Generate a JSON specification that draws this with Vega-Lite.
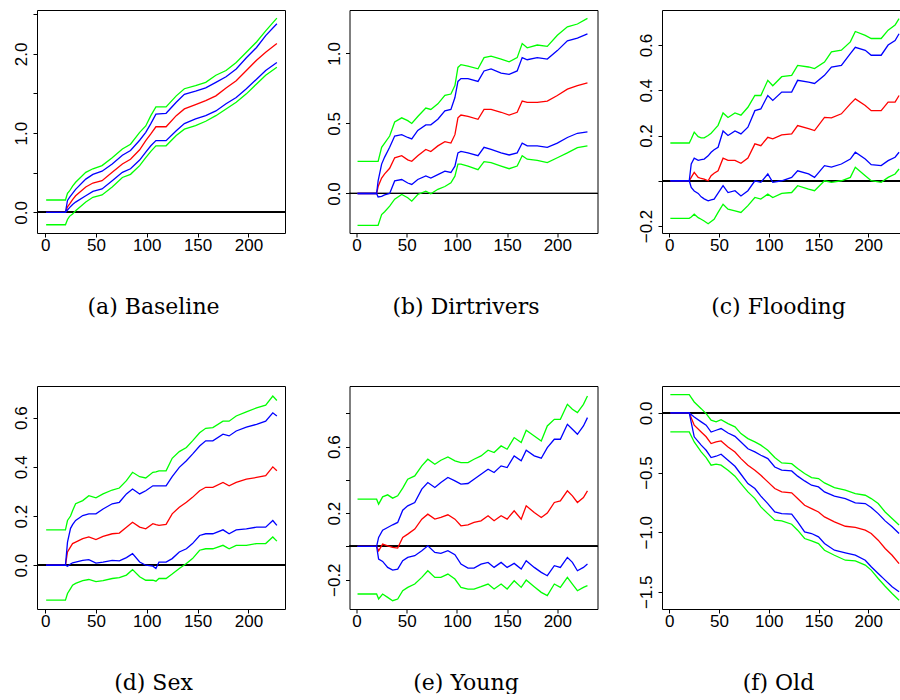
{
  "$schema": "https://vega.github.io/schema/vega-lite/v6.json",
  "background": "white",
  "padding": {"left": 11, "top": 9, "right": 0, "bottom": 0},
  "bounds": "flush",
  "columns": 3,
  "spacing": {"row": 153, "column": 64.5},
  "datasets": {
    "a": [
      {"x":1,"g1":-0.156,"b1":0,"r":0,"b2":0,"g2":0.156},
      {"x":20,"g1":-0.156,"b1":0,"r":0,"b2":0,"g2":0.156},
      {"x":22,"g1":-0.09,"b1":0.03,"r":0.07,"b2":0.15,"g2":0.24},
      {"x":24,"g1":-0.05,"b1":0.06,"r":0.105,"b2":0.19,"g2":0.27},
      {"x":27,"g1":-0.02,"b1":0.10,"r":0.16,"b2":0.24,"g2":0.33},
      {"x":30,"g1":0.02,"b1":0.13,"r":0.21,"b2":0.29,"g2":0.38},
      {"x":40,"g1":0.13,"b1":0.21,"r":0.32,"b2":0.42,"g2":0.505},
      {"x":47,"g1":0.19,"b1":0.265,"r":0.37,"b2":0.48,"g2":0.55},
      {"x":56,"g1":0.22,"b1":0.295,"r":0.40,"b2":0.52,"g2":0.59},
      {"x":66,"g1":0.32,"b1":0.40,"r":0.505,"b2":0.61,"g2":0.69},
      {"x":76,"g1":0.44,"b1":0.505,"r":0.61,"b2":0.72,"g2":0.80},
      {"x":84,"g1":0.48,"b1":0.55,"r":0.67,"b2":0.78,"g2":0.86},
      {"x":93,"g1":0.59,"b1":0.66,"r":0.79,"b2":0.91,"g2":1.01},
      {"x":99,"g1":0.69,"b1":0.76,"r":0.905,"b2":1.01,"g2":1.09},
      {"x":104,"g1":0.77,"b1":0.84,"r":0.99,"b2":1.12,"g2":1.22},
      {"x":109,"g1":0.84,"b1":0.905,"r":1.08,"b2":1.24,"g2":1.33},
      {"x":119,"g1":0.84,"b1":0.905,"r":1.08,"b2":1.25,"g2":1.33},
      {"x":129,"g1":0.97,"b1":1.03,"r":1.22,"b2":1.39,"g2":1.47},
      {"x":137,"g1":1.05,"b1":1.12,"r":1.305,"b2":1.49,"g2":1.56},
      {"x":148,"g1":1.095,"b1":1.18,"r":1.36,"b2":1.53,"g2":1.60},
      {"x":158,"g1":1.15,"b1":1.22,"r":1.41,"b2":1.57,"g2":1.64},
      {"x":168,"g1":1.22,"b1":1.28,"r":1.47,"b2":1.64,"g2":1.73},
      {"x":178,"g1":1.305,"b1":1.37,"r":1.57,"b2":1.71,"g2":1.79},
      {"x":188,"g1":1.39,"b1":1.45,"r":1.66,"b2":1.81,"g2":1.89},
      {"x":198,"g1":1.495,"b1":1.56,"r":1.79,"b2":1.95,"g2":2.02},
      {"x":208,"g1":1.62,"b1":1.68,"r":1.92,"b2":2.08,"g2":2.15},
      {"x":217,"g1":1.73,"b1":1.79,"r":2.02,"b2":2.23,"g2":2.29},
      {"x":228,"g1":1.83,"b1":1.89,"r":2.13,"b2":2.38,"g2":2.45}
    ],
    "b": [
      {"x":1,"g1":-0.227,"b1":0,"r":0,"b2":0,"g2":0.229},
      {"x":20,"g1":-0.227,"b1":0,"r":0,"b2":0,"g2":0.229},
      {"x":21.5,"g1":-0.227,"b1":-0.025,"r":0.05,"b2":0.09,"g2":0.229},
      {"x":25,"g1":-0.15,"b1":-0.02,"r":0.11,"b2":0.21,"g2":0.33},
      {"x":28,"g1":-0.13,"b1":-0.01,"r":0.14,"b2":0.26,"g2":0.36},
      {"x":33,"g1":-0.09,"b1":0.0,"r":0.18,"b2":0.33,"g2":0.41},
      {"x":38,"g1":-0.04,"b1":0.09,"r":0.255,"b2":0.41,"g2":0.51},
      {"x":45,"g1":-0.007,"b1":0.10,"r":0.27,"b2":0.42,"g2":0.54},
      {"x":51,"g1":-0.03,"b1":0.075,"r":0.24,"b2":0.40,"g2":0.52},
      {"x":55,"g1":-0.055,"b1":0.065,"r":0.23,"b2":0.39,"g2":0.50},
      {"x":61,"g1":-0.007,"b1":0.10,"r":0.27,"b2":0.45,"g2":0.55},
      {"x":69,"g1":0.017,"b1":0.125,"r":0.315,"b2":0.49,"g2":0.61},
      {"x":74,"g1":-0.002,"b1":0.11,"r":0.30,"b2":0.49,"g2":0.60},
      {"x":81,"g1":0.03,"b1":0.135,"r":0.34,"b2":0.53,"g2":0.64},
      {"x":88,"g1":0.05,"b1":0.16,"r":0.37,"b2":0.59,"g2":0.70},
      {"x":94,"g1":0.076,"b1":0.15,"r":0.36,"b2":0.60,"g2":0.71},
      {"x":98,"g1":0.124,"b1":0.195,"r":0.42,"b2":0.685,"g2":0.77},
      {"x":101,"g1":0.21,"b1":0.29,"r":0.54,"b2":0.80,"g2":0.90},
      {"x":104,"g1":0.21,"b1":0.30,"r":0.56,"b2":0.82,"g2":0.92},
      {"x":111,"g1":0.196,"b1":0.29,"r":0.55,"b2":0.82,"g2":0.91},
      {"x":121,"g1":0.17,"b1":0.27,"r":0.53,"b2":0.80,"g2":0.89},
      {"x":127,"g1":0.227,"b1":0.33,"r":0.60,"b2":0.875,"g2":0.97},
      {"x":134,"g1":0.22,"b1":0.315,"r":0.60,"b2":0.89,"g2":0.98},
      {"x":144,"g1":0.196,"b1":0.29,"r":0.58,"b2":0.86,"g2":0.96},
      {"x":152,"g1":0.177,"b1":0.275,"r":0.56,"b2":0.85,"g2":0.94},
      {"x":160,"g1":0.196,"b1":0.29,"r":0.58,"b2":0.875,"g2":0.97},
      {"x":165,"g1":0.27,"b1":0.36,"r":0.66,"b2":0.97,"g2":1.07},
      {"x":170,"g1":0.245,"b1":0.34,"r":0.65,"b2":0.955,"g2":1.04},
      {"x":180,"g1":0.236,"b1":0.34,"r":0.65,"b2":0.97,"g2":1.06},
      {"x":190,"g1":0.22,"b1":0.33,"r":0.66,"b2":0.96,"g2":1.05},
      {"x":200,"g1":0.255,"b1":0.36,"r":0.70,"b2":1.02,"g2":1.13},
      {"x":210,"g1":0.29,"b1":0.40,"r":0.745,"b2":1.09,"g2":1.19},
      {"x":220,"g1":0.327,"b1":0.43,"r":0.77,"b2":1.11,"g2":1.21},
      {"x":230,"g1":0.34,"b1":0.44,"r":0.79,"b2":1.14,"g2":1.25}
    ],
    "c": [
      {"x":1,"g1":-0.166,"b1":0,"r":0,"b2":0,"g2":0.167},
      {"x":20,"g1":-0.166,"b1":0,"r":0,"b2":0,"g2":0.167},
      {"x":22,"g1":-0.16,"b1":-0.03,"r":0.015,"b2":0.074,"g2":0.185},
      {"x":25,"g1":-0.148,"b1":-0.045,"r":0.037,"b2":0.10,"g2":0.215},
      {"x":29,"g1":-0.163,"b1":-0.056,"r":0.015,"b2":0.09,"g2":0.195},
      {"x":32,"g1":-0.17,"b1":-0.071,"r":0.01,"b2":0.093,"g2":0.19},
      {"x":35,"g1":-0.178,"b1":-0.08,"r":0.007,"b2":0.096,"g2":0.19},
      {"x":39,"g1":-0.19,"b1":-0.089,"r":0.0,"b2":0.11,"g2":0.20},
      {"x":42,"g1":-0.18,"b1":-0.085,"r":0.022,"b2":0.126,"g2":0.21},
      {"x":45,"g1":-0.17,"b1":-0.081,"r":0.033,"b2":0.137,"g2":0.225},
      {"x":49,"g1":-0.14,"b1":-0.055,"r":0.044,"b2":0.148,"g2":0.245},
      {"x":54,"g1":-0.104,"b1":-0.022,"r":0.10,"b2":0.22,"g2":0.30},
      {"x":59,"g1":-0.126,"b1":-0.052,"r":0.09,"b2":0.20,"g2":0.28},
      {"x":66,"g1":-0.133,"b1":-0.044,"r":0.09,"b2":0.22,"g2":0.30},
      {"x":72,"g1":-0.14,"b1":-0.067,"r":0.077,"b2":0.207,"g2":0.29},
      {"x":79,"g1":-0.11,"b1":-0.044,"r":0.10,"b2":0.237,"g2":0.325},
      {"x":86,"g1":-0.074,"b1":0.0,"r":0.163,"b2":0.31,"g2":0.377},
      {"x":92,"g1":-0.081,"b1":-0.007,"r":0.155,"b2":0.318,"g2":0.377},
      {"x":99,"g1":-0.059,"b1":0.03,"r":0.192,"b2":0.377,"g2":0.444},
      {"x":104,"g1":-0.074,"b1":-0.007,"r":0.185,"b2":0.355,"g2":0.42},
      {"x":113,"g1":-0.056,"b1":0.0,"r":0.203,"b2":0.392,"g2":0.46},
      {"x":123,"g1":-0.052,"b1":0.015,"r":0.207,"b2":0.392,"g2":0.466},
      {"x":129,"g1":-0.022,"b1":0.044,"r":0.244,"b2":0.444,"g2":0.51},
      {"x":140,"g1":-0.037,"b1":0.03,"r":0.23,"b2":0.436,"g2":0.503},
      {"x":146,"g1":-0.044,"b1":0.015,"r":0.222,"b2":0.43,"g2":0.496},
      {"x":156,"g1":0.0,"b1":0.067,"r":0.28,"b2":0.466,"g2":0.525},
      {"x":163,"g1":-0.007,"b1":0.06,"r":0.278,"b2":0.503,"g2":0.57},
      {"x":173,"g1":0.0,"b1":0.074,"r":0.296,"b2":0.51,"g2":0.577},
      {"x":182,"g1":0.015,"b1":0.096,"r":0.34,"b2":0.562,"g2":0.614},
      {"x":187,"g1":0.06,"b1":0.126,"r":0.362,"b2":0.59,"g2":0.66},
      {"x":197,"g1":0.022,"b1":0.096,"r":0.333,"b2":0.577,"g2":0.643},
      {"x":203,"g1":0.0,"b1":0.071,"r":0.31,"b2":0.555,"g2":0.629},
      {"x":213,"g1":-0.007,"b1":0.067,"r":0.31,"b2":0.555,"g2":0.629},
      {"x":220,"g1":0.015,"b1":0.089,"r":0.348,"b2":0.60,"g2":0.666},
      {"x":227,"g1":0.03,"b1":0.104,"r":0.348,"b2":0.62,"g2":0.688},
      {"x":231,"g1":0.052,"b1":0.126,"r":0.377,"b2":0.65,"g2":0.717}
    ],
    "d": [
      {"x":1,"g1":-0.142,"b1":0,"r":0,"b2":0,"g2":0.144},
      {"x":20,"g1":-0.142,"b1":0,"r":0,"b2":0,"g2":0.144},
      {"x":22,"g1":-0.115,"b1":-0.004,"r":0.054,"b2":0.094,"g2":0.182},
      {"x":25,"g1":-0.095,"b1":0.005,"r":0.075,"b2":0.15,"g2":0.20},
      {"x":27,"g1":-0.081,"b1":0.01,"r":0.088,"b2":0.165,"g2":0.222},
      {"x":30,"g1":-0.074,"b1":0.013,"r":0.094,"b2":0.182,"g2":0.25},
      {"x":37,"g1":-0.063,"b1":0.02,"r":0.108,"b2":0.202,"g2":0.263},
      {"x":43,"g1":-0.058,"b1":0.023,"r":0.115,"b2":0.209,"g2":0.283},
      {"x":50,"g1":-0.067,"b1":0.009,"r":0.104,"b2":0.209,"g2":0.274},
      {"x":57,"g1":-0.063,"b1":0.013,"r":0.117,"b2":0.229,"g2":0.29},
      {"x":66,"g1":-0.054,"b1":0.02,"r":0.128,"b2":0.25,"g2":0.306},
      {"x":73,"g1":-0.05,"b1":0.018,"r":0.131,"b2":0.256,"g2":0.314},
      {"x":80,"g1":-0.04,"b1":0.031,"r":0.155,"b2":0.29,"g2":0.344},
      {"x":86,"g1":-0.018,"b1":0.047,"r":0.175,"b2":0.31,"g2":0.378},
      {"x":93,"g1":-0.047,"b1":0.013,"r":0.155,"b2":0.29,"g2":0.36},
      {"x":99,"g1":-0.061,"b1":0.0,"r":0.148,"b2":0.303,"g2":0.355},
      {"x":106,"g1":-0.061,"b1":-0.004,"r":0.169,"b2":0.323,"g2":0.378},
      {"x":109,"g1":-0.065,"b1":-0.013,"r":0.165,"b2":0.323,"g2":0.38},
      {"x":112,"g1":-0.054,"b1":0.013,"r":0.162,"b2":0.323,"g2":0.384},
      {"x":119,"g1":-0.054,"b1":0.013,"r":0.166,"b2":0.323,"g2":0.384},
      {"x":125,"g1":-0.036,"b1":0.027,"r":0.209,"b2":0.36,"g2":0.435},
      {"x":132,"g1":-0.013,"b1":0.054,"r":0.236,"b2":0.398,"g2":0.462},
      {"x":139,"g1":0.007,"b1":0.067,"r":0.256,"b2":0.425,"g2":0.479},
      {"x":145,"g1":0.027,"b1":0.088,"r":0.276,"b2":0.452,"g2":0.506},
      {"x":152,"g1":0.061,"b1":0.121,"r":0.303,"b2":0.485,"g2":0.539},
      {"x":158,"g1":0.067,"b1":0.128,"r":0.317,"b2":0.506,"g2":0.557},
      {"x":165,"g1":0.067,"b1":0.128,"r":0.317,"b2":0.506,"g2":0.56},
      {"x":175,"g1":0.081,"b1":0.144,"r":0.337,"b2":0.533,"g2":0.586},
      {"x":181,"g1":0.067,"b1":0.128,"r":0.323,"b2":0.526,"g2":0.586},
      {"x":188,"g1":0.081,"b1":0.144,"r":0.337,"b2":0.546,"g2":0.607},
      {"x":198,"g1":0.081,"b1":0.148,"r":0.35,"b2":0.562,"g2":0.624},
      {"x":208,"g1":0.088,"b1":0.155,"r":0.357,"b2":0.573,"g2":0.64},
      {"x":217,"g1":0.088,"b1":0.155,"r":0.364,"b2":0.586,"g2":0.651},
      {"x":224,"g1":0.115,"b1":0.182,"r":0.40,"b2":0.62,"g2":0.688},
      {"x":228,"g1":0.098,"b1":0.162,"r":0.384,"b2":0.607,"g2":0.67}
    ],
    "e": [
      {"x":1,"g1":-0.286,"b1":0,"r":0,"b2":0,"g2":0.284},
      {"x":20,"g1":-0.286,"b1":0,"r":0,"b2":0,"g2":0.284},
      {"x":22,"g1":-0.316,"b1":-0.076,"r":-0.026,"b2":0.054,"g2":0.254},
      {"x":26,"g1":-0.286,"b1":-0.09,"r":0.014,"b2":0.098,"g2":0.298},
      {"x":31,"g1":-0.306,"b1":-0.126,"r":0.004,"b2":0.114,"g2":0.31},
      {"x":36,"g1":-0.326,"b1":-0.142,"r":-0.006,"b2":0.13,"g2":0.29},
      {"x":41,"g1":-0.316,"b1":-0.136,"r":-0.01,"b2":0.144,"g2":0.304},
      {"x":46,"g1":-0.266,"b1":-0.086,"r":0.054,"b2":0.218,"g2":0.35},
      {"x":51,"g1":-0.246,"b1":-0.066,"r":0.074,"b2":0.244,"g2":0.404},
      {"x":58,"g1":-0.226,"b1":-0.056,"r":0.104,"b2":0.264,"g2":0.424},
      {"x":65,"g1":-0.186,"b1":-0.026,"r":0.164,"b2":0.344,"g2":0.484},
      {"x":71,"g1":-0.146,"b1":0.004,"r":0.194,"b2":0.384,"g2":0.524},
      {"x":78,"g1":-0.186,"b1":-0.036,"r":0.164,"b2":0.354,"g2":0.494},
      {"x":84,"g1":-0.186,"b1":-0.042,"r":0.174,"b2":0.384,"g2":0.518},
      {"x":91,"g1":-0.166,"b1":-0.026,"r":0.19,"b2":0.414,"g2":0.538},
      {"x":98,"g1":-0.196,"b1":-0.05,"r":0.164,"b2":0.394,"g2":0.514},
      {"x":104,"g1":-0.246,"b1":-0.106,"r":0.124,"b2":0.374,"g2":0.504},
      {"x":111,"g1":-0.256,"b1":-0.13,"r":0.13,"b2":0.378,"g2":0.504},
      {"x":117,"g1":-0.256,"b1":-0.13,"r":0.144,"b2":0.404,"g2":0.524},
      {"x":124,"g1":-0.242,"b1":-0.106,"r":0.154,"b2":0.434,"g2":0.544},
      {"x":131,"g1":-0.226,"b1":-0.096,"r":0.184,"b2":0.464,"g2":0.578},
      {"x":137,"g1":-0.256,"b1":-0.126,"r":0.154,"b2":0.444,"g2":0.564},
      {"x":144,"g1":-0.226,"b1":-0.096,"r":0.184,"b2":0.484,"g2":0.604},
      {"x":150,"g1":-0.256,"b1":-0.126,"r":0.164,"b2":0.474,"g2":0.584},
      {"x":157,"g1":-0.206,"b1":-0.102,"r":0.214,"b2":0.544,"g2":0.654},
      {"x":164,"g1":-0.246,"b1":-0.136,"r":0.164,"b2":0.514,"g2":0.624},
      {"x":169,"g1":-0.202,"b1":-0.086,"r":0.244,"b2":0.578,"g2":0.698},
      {"x":177,"g1":-0.242,"b1":-0.126,"r":0.204,"b2":0.544,"g2":0.664},
      {"x":184,"g1":-0.276,"b1":-0.156,"r":0.174,"b2":0.53,"g2":0.634},
      {"x":190,"g1":-0.296,"b1":-0.176,"r":0.2,"b2":0.594,"g2":0.724},
      {"x":197,"g1":-0.226,"b1":-0.116,"r":0.264,"b2":0.644,"g2":0.764},
      {"x":203,"g1":-0.246,"b1":-0.126,"r":0.274,"b2":0.644,"g2":0.764},
      {"x":210,"g1":-0.186,"b1":-0.066,"r":0.334,"b2":0.734,"g2":0.854},
      {"x":215,"g1":-0.226,"b1":-0.096,"r":0.304,"b2":0.704,"g2":0.824},
      {"x":220,"g1":-0.266,"b1":-0.146,"r":0.264,"b2":0.674,"g2":0.804},
      {"x":226,"g1":-0.246,"b1":-0.126,"r":0.294,"b2":0.724,"g2":0.854},
      {"x":230,"g1":-0.236,"b1":-0.106,"r":0.334,"b2":0.774,"g2":0.904}
    ],
    "f": [
      {"x":1,"g1":-0.159,"b1":0,"r":0,"b2":0,"g2":0.154},
      {"x":20,"g1":-0.159,"b1":0,"r":0,"b2":0,"g2":0.154},
      {"x":25,"g1":-0.243,"b1":-0.2,"r":-0.103,"b2":-0.034,"g2":0.092},
      {"x":32,"g1":-0.327,"b1":-0.27,"r":-0.159,"b2":-0.075,"g2":0.036},
      {"x":37,"g1":-0.374,"b1":-0.313,"r":-0.2,"b2":-0.103,"g2":-0.006},
      {"x":42,"g1":-0.438,"b1":-0.374,"r":-0.257,"b2":-0.16,"g2":-0.061},
      {"x":47,"g1":-0.43,"b1":-0.363,"r":-0.243,"b2":-0.145,"g2":-0.075},
      {"x":52,"g1":-0.438,"b1":-0.346,"r":-0.235,"b2":-0.131,"g2":-0.056},
      {"x":59,"g1":-0.48,"b1":-0.397,"r":-0.285,"b2":-0.168,"g2":-0.089},
      {"x":66,"g1":-0.53,"b1":-0.447,"r":-0.327,"b2":-0.196,"g2":-0.117},
      {"x":72,"g1":-0.592,"b1":-0.514,"r":-0.383,"b2":-0.243,"g2":-0.173},
      {"x":79,"g1":-0.662,"b1":-0.592,"r":-0.438,"b2":-0.30,"g2":-0.215},
      {"x":86,"g1":-0.718,"b1":-0.634,"r":-0.48,"b2":-0.327,"g2":-0.243},
      {"x":92,"g1":-0.788,"b1":-0.698,"r":-0.522,"b2":-0.355,"g2":-0.27},
      {"x":99,"g1":-0.844,"b1":-0.76,"r":-0.578,"b2":-0.383,"g2":-0.313},
      {"x":106,"g1":-0.899,"b1":-0.83,"r":-0.634,"b2":-0.453,"g2":-0.374},
      {"x":113,"g1":-0.905,"b1":-0.844,"r":-0.662,"b2":-0.48,"g2":-0.419},
      {"x":123,"g1":-0.933,"b1":-0.849,"r":-0.67,"b2":-0.486,"g2":-0.425},
      {"x":129,"g1":-0.983,"b1":-0.913,"r":-0.718,"b2":-0.53,"g2":-0.466},
      {"x":136,"g1":-1.053,"b1":-0.997,"r":-0.774,"b2":-0.57,"g2":-0.508},
      {"x":143,"g1":-1.073,"b1":-1.011,"r":-0.802,"b2":-0.606,"g2":-0.542},
      {"x":150,"g1":-1.095,"b1":-1.039,"r":-0.83,"b2":-0.62,"g2":-0.55},
      {"x":156,"g1":-1.151,"b1":-1.095,"r":-0.872,"b2":-0.662,"g2":-0.587},
      {"x":166,"g1":-1.193,"b1":-1.151,"r":-0.913,"b2":-0.698,"g2":-0.626},
      {"x":177,"g1":-1.235,"b1":-1.173,"r":-0.95,"b2":-0.718,"g2":-0.648},
      {"x":187,"g1":-1.24,"b1":-1.193,"r":-0.96,"b2":-0.754,"g2":-0.676},
      {"x":197,"g1":-1.276,"b1":-1.235,"r":-0.983,"b2":-0.76,"g2":-0.69},
      {"x":203,"g1":-1.318,"b1":-1.29,"r":-1.011,"b2":-0.793,"g2":-0.718},
      {"x":210,"g1":-1.388,"b1":-1.346,"r":-1.067,"b2":-0.844,"g2":-0.76},
      {"x":217,"g1":-1.453,"b1":-1.402,"r":-1.137,"b2":-0.905,"g2":-0.83},
      {"x":224,"g1":-1.514,"b1":-1.458,"r":-1.193,"b2":-0.955,"g2":-0.885},
      {"x":231,"g1":-1.57,"b1":-1.5,"r":-1.263,"b2":-1.011,"g2":-0.94}
    ]
  },
  "concat": [
    {
      "width": 248, "height": 223,
      "data": {"name": "a"},
      "layer": [
        {"mark": {"type": "rule", "color": "black", "strokeWidth": 1}, "encoding": {"y": {"datum": 0, "type": "quantitative"}}},
        {"mark": {"type": "line", "color": "#FF0000", "strokeWidth": 1.3},
         "encoding": {
           "x": {"field": "x", "type": "quantitative", "title": "(a) Baseline", "scale": {"domain": [-8, 236], "nice": false, "zero": false},
                 "axis": {"values": [0, 50, 100, 150, 200], "format": "d", "labelPadding": 0, "titleX": 116, "titleY": 80, "titleAlign": "center", "titleBaseline": "alphabetic"}},
           "y": {"field": "r", "type": "quantitative", "title": null, "scale": {"domain": [-0.26, 2.553], "nice": false, "zero": false},
                 "axis": {"values": [0, 0.5, 1, 1.5, 2, 2.5], "format": ".1f", "labelExpr": "datum.value % 1 == 0 ? datum.label : ''"}}
         }},
        {"transform": [{"fold": ["b1", "b2"]}], "mark": {"type": "line", "color": "#0000FF", "strokeWidth": 1.3},
         "encoding": {"x": {"field": "x", "type": "quantitative", "title": "(a) Baseline"}, "y": {"field": "value", "type": "quantitative", "title": null}, "detail": {"field": "key"}}},
        {"transform": [{"fold": ["g1", "g2"]}], "mark": {"type": "line", "color": "#00FF00", "strokeWidth": 1.3},
         "encoding": {"x": {"field": "x", "type": "quantitative", "title": "(a) Baseline"}, "y": {"field": "value", "type": "quantitative", "title": null}, "detail": {"field": "key"}}}
      ]
    },
    {
      "width": 248, "height": 223,
      "data": {"name": "b"},
      "layer": [
        {"mark": {"type": "rule", "color": "black", "strokeWidth": 1}, "encoding": {"y": {"datum": 0, "type": "quantitative"}}},
        {"mark": {"type": "line", "color": "#FF0000", "strokeWidth": 1.3},
         "encoding": {
           "x": {"field": "x", "type": "quantitative", "title": "(b) Dirtrivers", "scale": {"domain": [-7, 240], "nice": false, "zero": false},
                 "axis": {"values": [0, 50, 100, 150, 200], "format": "d", "labelPadding": 0, "titleX": 116, "titleY": 80, "titleAlign": "center", "titleBaseline": "alphabetic"}},
           "y": {"field": "r", "type": "quantitative", "title": null, "scale": {"domain": [-0.282, 1.31], "nice": false, "zero": false},
                 "axis": {"values": [0, 0.5, 1], "format": ".1f"}}
         }},
        {"transform": [{"fold": ["b1", "b2"]}], "mark": {"type": "line", "color": "#0000FF", "strokeWidth": 1.3},
         "encoding": {"x": {"field": "x", "type": "quantitative", "title": "(b) Dirtrivers"}, "y": {"field": "value", "type": "quantitative", "title": null}, "detail": {"field": "key"}}},
        {"transform": [{"fold": ["g1", "g2"]}], "mark": {"type": "line", "color": "#00FF00", "strokeWidth": 1.3},
         "encoding": {"x": {"field": "x", "type": "quantitative", "title": "(b) Dirtrivers"}, "y": {"field": "value", "type": "quantitative", "title": null}, "detail": {"field": "key"}}}
      ]
    },
    {
      "width": 248, "height": 223,
      "data": {"name": "c"},
      "layer": [
        {"mark": {"type": "rule", "color": "black", "strokeWidth": 1}, "encoding": {"y": {"datum": 0, "type": "quantitative"}}},
        {"mark": {"type": "line", "color": "#FF0000", "strokeWidth": 1.3},
         "encoding": {
           "x": {"field": "x", "type": "quantitative", "title": "(c) Flooding", "scale": {"domain": [-7.4, 242], "nice": false, "zero": false},
                 "axis": {"values": [0, 50, 100, 150, 200], "format": "d", "labelPadding": 0, "titleX": 116, "titleY": 80, "titleAlign": "center", "titleBaseline": "alphabetic"}},
           "y": {"field": "r", "type": "quantitative", "title": null, "scale": {"domain": [-0.231, 0.755], "nice": false, "zero": false},
                 "axis": {"values": [-0.2, 0, 0.2, 0.4, 0.6], "format": ".1f", "labelExpr": "abs(datum.value) < 0.01 ? '' : datum.label"}}
         }},
        {"transform": [{"fold": ["b1", "b2"]}], "mark": {"type": "line", "color": "#0000FF", "strokeWidth": 1.3},
         "encoding": {"x": {"field": "x", "type": "quantitative", "title": "(c) Flooding"}, "y": {"field": "value", "type": "quantitative", "title": null}, "detail": {"field": "key"}}},
        {"transform": [{"fold": ["g1", "g2"]}], "mark": {"type": "line", "color": "#00FF00", "strokeWidth": 1.3},
         "encoding": {"x": {"field": "x", "type": "quantitative", "title": "(c) Flooding"}, "y": {"field": "value", "type": "quantitative", "title": null}, "detail": {"field": "key"}}}
      ]
    },
    {
      "width": 248, "height": 223,
      "data": {"name": "d"},
      "layer": [
        {"mark": {"type": "rule", "color": "black", "strokeWidth": 1}, "encoding": {"y": {"datum": 0, "type": "quantitative"}}},
        {"mark": {"type": "line", "color": "#FF0000", "strokeWidth": 1.3},
         "encoding": {
           "x": {"field": "x", "type": "quantitative", "title": "(d) Sex", "scale": {"domain": [-8, 236], "nice": false, "zero": false},
                 "axis": {"values": [0, 50, 100, 150, 200], "format": "d", "labelPadding": 0, "titleX": 116, "titleY": 80, "titleAlign": "center", "titleBaseline": "alphabetic"}},
           "y": {"field": "r", "type": "quantitative", "title": null, "scale": {"domain": [-0.178, 0.729], "nice": false, "zero": false},
                 "axis": {"values": [0, 0.2, 0.4, 0.6], "format": ".1f"}}
         }},
        {"transform": [{"fold": ["b1", "b2"]}], "mark": {"type": "line", "color": "#0000FF", "strokeWidth": 1.3},
         "encoding": {"x": {"field": "x", "type": "quantitative", "title": "(d) Sex"}, "y": {"field": "value", "type": "quantitative", "title": null}, "detail": {"field": "key"}}},
        {"transform": [{"fold": ["g1", "g2"]}], "mark": {"type": "line", "color": "#00FF00", "strokeWidth": 1.3},
         "encoding": {"x": {"field": "x", "type": "quantitative", "title": "(d) Sex"}, "y": {"field": "value", "type": "quantitative", "title": null}, "detail": {"field": "key"}}}
      ]
    },
    {
      "width": 248, "height": 223,
      "data": {"name": "e"},
      "layer": [
        {"mark": {"type": "rule", "color": "black", "strokeWidth": 1}, "encoding": {"y": {"datum": 0, "type": "quantitative"}}},
        {"mark": {"type": "line", "color": "#FF0000", "strokeWidth": 1.3},
         "encoding": {
           "x": {"field": "x", "type": "quantitative", "title": "(e) Young", "scale": {"domain": [-7, 240], "nice": false, "zero": false},
                 "axis": {"values": [0, 50, 100, 150, 200], "format": "d", "labelPadding": 0, "titleX": 116, "titleY": 80, "titleAlign": "center", "titleBaseline": "alphabetic"}},
           "y": {"field": "r", "type": "quantitative", "title": null, "scale": {"domain": [-0.376, 0.964], "nice": false, "zero": false},
                 "axis": {"values": [-0.2, 0, 0.2, 0.4, 0.6, 0.8], "format": ".1f", "labelExpr": "(abs(datum.value) < 0.01 || abs(datum.value - 0.4) < 0.01 || abs(datum.value - 0.8) < 0.01) ? '' : datum.label"}}
         }},
        {"transform": [{"fold": ["b1", "b2"]}], "mark": {"type": "line", "color": "#0000FF", "strokeWidth": 1.3},
         "encoding": {"x": {"field": "x", "type": "quantitative", "title": "(e) Young"}, "y": {"field": "value", "type": "quantitative", "title": null}, "detail": {"field": "key"}}},
        {"transform": [{"fold": ["g1", "g2"]}], "mark": {"type": "line", "color": "#00FF00", "strokeWidth": 1.3},
         "encoding": {"x": {"field": "x", "type": "quantitative", "title": "(e) Young"}, "y": {"field": "value", "type": "quantitative", "title": null}, "detail": {"field": "key"}}}
      ]
    },
    {
      "width": 248, "height": 223,
      "data": {"name": "f"},
      "layer": [
        {"mark": {"type": "rule", "color": "black", "strokeWidth": 1}, "encoding": {"y": {"datum": 0, "type": "quantitative"}}},
        {"mark": {"type": "line", "color": "#FF0000", "strokeWidth": 1.3},
         "encoding": {
           "x": {"field": "x", "type": "quantitative", "title": "(f) Old", "scale": {"domain": [-7.4, 242], "nice": false, "zero": false},
                 "axis": {"values": [0, 50, 100, 150, 200], "format": "d", "labelPadding": 0, "titleX": 116, "titleY": 80, "titleAlign": "center", "titleBaseline": "alphabetic"}},
           "y": {"field": "r", "type": "quantitative", "title": null, "scale": {"domain": [-1.644, 0.226], "nice": false, "zero": false},
                 "axis": {"values": [-1.5, -1, -0.5, 0], "format": ".1f"}}
         }},
        {"transform": [{"fold": ["b1", "b2"]}], "mark": {"type": "line", "color": "#0000FF", "strokeWidth": 1.3},
         "encoding": {"x": {"field": "x", "type": "quantitative", "title": "(f) Old"}, "y": {"field": "value", "type": "quantitative", "title": null}, "detail": {"field": "key"}}},
        {"transform": [{"fold": ["g1", "g2"]}], "mark": {"type": "line", "color": "#00FF00", "strokeWidth": 1.3},
         "encoding": {"x": {"field": "x", "type": "quantitative", "title": "(f) Old"}, "y": {"field": "value", "type": "quantitative", "title": null}, "detail": {"field": "key"}}}
      ]
    }
  ],
  "config": {
    "view": {"stroke": "black", "strokeWidth": 1},
    "axis": {
      "grid": false, "domain": false,
      "tickColor": "black", "tickSize": 4, "tickWidth": 1,
      "labelColor": "black", "labelFont": "Liberation Sans", "labelFontSize": 17,
      "labelOverlap": false, "labelFlush": false, "labelBound": false,
      "titleFont": "DejaVu Serif", "titleFontSize": 22, "titleFontWeight": "normal", "titleColor": "black"
    },
    "axisY": {"labelAngle": -90, "labelAlign": "center", "labelBaseline": "alphabetic", "labelPadding": 6.5}
  }
}
